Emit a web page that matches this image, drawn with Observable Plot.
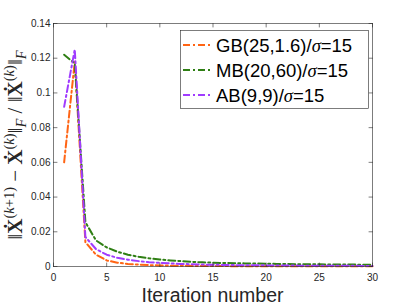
<!DOCTYPE html>
<html>
<head>
<meta charset="utf-8">
<script src="https://cdn.jsdelivr.net/npm/d3@7"></script>
<script src="https://cdn.jsdelivr.net/npm/@observablehq/plot@0.6"></script>
<style>
  html, body { margin: 0; padding: 0; background: #fff; }
  #chart { width: 411px; height: 308px; }
</style>
</head>
<body>
<div id="chart"></div>
<script>
// ---- data ----
const iterations = [1,2,3,4,5,6,7,8,9,10,11,12,13,14,15,16,17,18,19,20,21,22,23,24,25,26,27,28,29,30];
const seriesNames = ["GB(25,1.6)/σ=15", "MB(20,60)/σ=15", "AB(9,9)/σ=15"];
const gbValues = [0.060, 0.118, 0.0140, 0.0068, 0.0035, 0.0022, 0.0015, 0.0011, 0.0008, 0.0006,
                  0.0005, 0.0004, 0.00035, 0.0003, 0.00026, 0.00023, 0.0002, 0.00018, 0.00016, 0.00015,
                  0.00014, 0.00013, 0.00012, 0.00011, 0.0001, 0.0001, 0.00009, 0.00009, 0.00008, 0.00008];
const mbValues = [0.122, 0.117, 0.0255, 0.0150, 0.0110, 0.0085, 0.0068, 0.0056, 0.0047, 0.0040,
                  0.0035, 0.0031, 0.0027, 0.0024, 0.0022, 0.0020, 0.0019, 0.0018, 0.0017, 0.0016,
                  0.0015, 0.0014, 0.00135, 0.0013, 0.00125, 0.0012, 0.00115, 0.0011, 0.00105, 0.0010];
const abValues = [0.092, 0.125, 0.0170, 0.0100, 0.0068, 0.0050, 0.0039, 0.0031, 0.0025, 0.0021,
                  0.0018, 0.0015, 0.0013, 0.0011, 0.0010, 0.0009, 0.0008, 0.00075, 0.0007, 0.00065,
                  0.0006, 0.00055, 0.0005, 0.00048, 0.00045, 0.00043, 0.0004, 0.00038, 0.00036, 0.00035];
const seriesColors = ["#ff6414", "#2f7f14", "#a03cff"];
const xTicks = [0, 5, 10, 15, 20, 25, 30];
const yTicks = [0, 0.02, 0.04, 0.06, 0.08, 0.1, 0.12, 0.14];
const yTickLabels = ["0", "0.02", "0.04", "0.06", "0.08", "0.1", "0.12", "0.14"];
const xLabel = "Iteration number";

// ---- build table ----
const allValues = [gbValues, mbValues, abValues];
const rows = [];
seriesNames.forEach((name, s) => {
  iterations.forEach((it, i) => rows.push({series: name, x: it, y: allValues[s][i]}));
});

const axisColor = "#262626";
const dash = "7,3,2,3";
const tickShape = {draw(ctx, l) { ctx.moveTo(0, 0); ctx.lineTo(0, -l); }};

const chart = Plot.plot({
  width: 411,
  height: 308,
  marginLeft: 53,
  marginRight: 39,
  marginTop: 23,
  marginBottom: 42,
  style: {fontFamily: "'Liberation Sans', Arial, Helvetica, sans-serif", background: "#fff"},
  x: {domain: [0, 30], axis: null},
  y: {domain: [0, 0.14], axis: null},
  color: {domain: seriesNames, range: seriesColors},
  marks: [
    Plot.line(rows, {x: "x", y: "y", z: "series", stroke: "series", strokeWidth: 2, strokeDasharray: dash, strokeLinejoin: "round"}),
    Plot.frame({stroke: axisColor, strokeWidth: 0.6}),
    Plot.vector(xTicks, {x: d => d, y: 0, length: 3.5, rotate: 0, anchor: "start", shape: tickShape, stroke: axisColor, strokeWidth: 0.6}),
    Plot.vector(xTicks, {x: d => d, y: 0.14, length: 3.5, rotate: 180, anchor: "start", shape: tickShape, stroke: axisColor, strokeWidth: 0.6}),
    Plot.vector(yTicks, {x: 0, y: d => d, length: 3.5, rotate: 90, anchor: "start", shape: tickShape, stroke: axisColor, strokeWidth: 0.6}),
    Plot.vector(yTicks, {x: 30, y: d => d, length: 3.5, rotate: 270, anchor: "start", shape: tickShape, stroke: axisColor, strokeWidth: 0.6}),
    Plot.axisX(xTicks, {anchor: "bottom", tickSize: 0, tickPadding: 7, fontSize: 10, fill: axisColor, label: null, tickFormat: d => String(d)}),
    Plot.axisY(yTicks, {anchor: "left", tickSize: 0, tickPadding: 3, fontSize: 10, fill: axisColor, label: null, tickFormat: (d, i) => yTickLabels[i]})
  ]
});

document.getElementById("chart").appendChild(chart);

// ---- labels & legend (text as real text) ----
const svg = d3.select(chart);
svg.append("text")
  .attr("x", 212.5).attr("y", 302)
  .attr("text-anchor", "middle")
  .attr("font-size", 19.5)
  .attr("fill", axisColor)
  .text(xLabel);

// y label (math) built from tspans
const yl = svg.append("text")
  .attr("transform", "translate(22,145) rotate(-90)")
  .attr("text-anchor", "middle")
  .attr("font-family", "'Liberation Serif', 'DejaVu Serif', serif")
  .attr("font-size", 21)
  .attr("fill", axisColor);
const parts = [
  {t: "\u2016"},
  {t: "X\u0307", w: "bold"},
  {t: "(", sup: true}, {t: "k", sup: true, i: true}, {t: "+1)", sup: true},
  {t: " \u2212 "},
  {t: "X\u0307", w: "bold"},
  {t: "(", sup: true}, {t: "k", sup: true, i: true}, {t: ")", sup: true},
  {t: "\u2016"},
  {t: "F", sub: true, i: true},
  {t: " / \u2016"},
  {t: "X\u0307", w: "bold"},
  {t: "(", sup: true}, {t: "k", sup: true, i: true}, {t: ")", sup: true},
  {t: "\u2016"},
  {t: "F", sub: true, i: true}
];
let shift = 0;
parts.forEach(p => {
  const target = p.sup ? -8 : p.sub ? 4 : 0;
  const ts = yl.append("tspan").text(p.t);
  if (target !== shift) { ts.attr("dy", target - shift); shift = target; }
  if (p.sup || p.sub) ts.attr("font-size", 14.5);
  if (p.w) ts.attr("font-weight", p.w);
  if (p.i) ts.attr("font-style", "italic");
});

// legend
const lg = svg.append("g").attr("text-anchor", "start");
lg.append("rect").attr("x", 180.5).attr("y", 30.5).attr("width", 188).attr("height", 78)
  .attr("fill", "#fff").attr("stroke", axisColor).attr("stroke-width", 0.6);
seriesNames.forEach((name, i) => {
  const cy = 45 + i * 25;
  lg.append("line").attr("x1", 183).attr("x2", 212).attr("y1", cy).attr("y2", cy)
    .attr("stroke", seriesColors[i]).attr("stroke-width", 2).attr("stroke-dasharray", dash);
  const [lab, sig] = name.split("σ");
  const t = lg.append("text").attr("x", 216).attr("y", cy + 7).attr("text-anchor", "start")
    .attr("font-size", 18.5).attr("fill", "#000");
  t.append("tspan").text(lab);
  t.append("tspan").attr("font-family", "'Liberation Serif', serif").attr("font-style", "italic").text("σ");
  t.append("tspan").text(sig);
});
</script>
</body>
</html>
